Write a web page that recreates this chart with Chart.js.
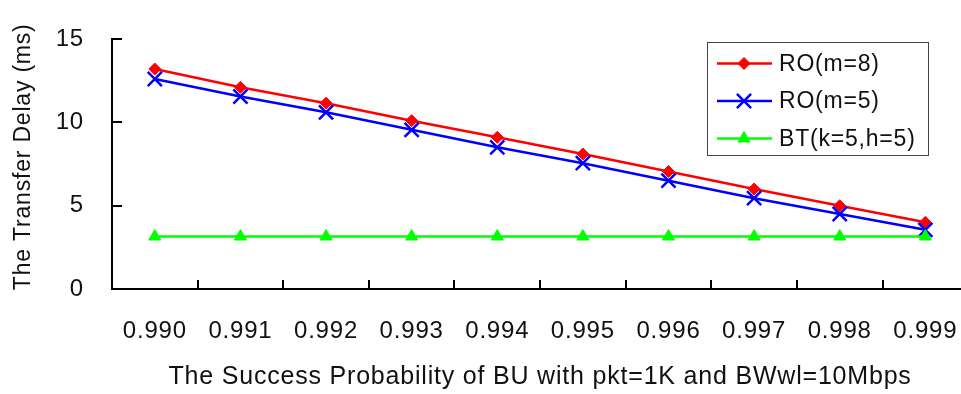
<!DOCTYPE html>
<html>
<head>
<meta charset="utf-8">
<script src="https://cdn.jsdelivr.net/npm/chart.js@4.4.1/dist/chart.umd.min.js"></script>
<style>
  html, body { margin: 0; padding: 0; background: #fff; overflow: hidden; }
  #wrap { width: 984px; height: 394px; }
</style>
</head>
<body>
<div id="wrap"><canvas id="delay-chart" width="984" height="394"></canvas></div>
<script>
// success probability of BU (x axis categories)
const probLabels = ["0.990", "0.991", "0.992", "0.993", "0.994", "0.995", "0.996", "0.997", "0.998", "0.999"];

// transfer delay in ms
const roM8 = [13.2, 12.1, 11.15, 10.1, 9.1, 8.1, 7.05, 6.0, 5.0, 4.0];
const roM5 = [12.6, 11.55, 10.6, 9.55, 8.5, 7.55, 6.5, 5.45, 4.5, 3.55];
const btK5H5 = [3.15, 3.15, 3.15, 3.15, 3.15, 3.15, 3.15, 3.15, 3.15, 3.15];

const yTicks = [0, 5, 10, 15];
const fontFamily = "'Liberation Sans', Arial, sans-serif";

// a bit of tracking on all canvas text
const textSpacing = {
  id: "textSpacing",
  beforeDraw(chart) {
    chart.ctx.letterSpacing = "0.8px";
  },
};

// small inward tick marks on both axes
const innerTicks = {
  id: "innerTicks",
  afterDraw(chart) {
    const ctx = chart.ctx;
    const x = chart.scales.x;
    const y = chart.scales.y;
    const area = chart.chartArea;
    ctx.save();
    ctx.strokeStyle = "#000";
    ctx.lineWidth = 2;
    ctx.beginPath();
    for (let i = 1; i < probLabels.length; i++) {
      const px = Math.round((x.getPixelForValue(i - 1) + x.getPixelForValue(i)) / 2);
      ctx.moveTo(px, area.bottom);
      ctx.lineTo(px, area.bottom - 9);
    }
    yTicks.forEach((v) => {
      const py = Math.round(y.getPixelForValue(v));
      ctx.moveTo(area.left, py);
      ctx.lineTo(area.left + 10, py);
    });
    ctx.stroke();
    ctx.restore();
  },
};

// boxed legend with line + marker samples
const boxLegend = {
  id: "boxLegend",
  afterDraw(chart) {
    const ctx = chart.ctx;
    const left = 707, top = 42, w = 221, h = 113;
    ctx.save();
    ctx.fillStyle = "#fff";
    ctx.fillRect(left, top, w, h);
    ctx.strokeStyle = "#444";
    ctx.lineWidth = 1;
    ctx.strokeRect(left + 0.5, top + 0.5, w, h);
    ctx.font = "23px " + fontFamily;
    ctx.textBaseline = "middle";
    chart.data.datasets.forEach((ds, i) => {
      const cy = 63.5 + i * 37.5;
      ctx.strokeStyle = ds.borderColor;
      ctx.lineWidth = ds.borderWidth;
      ctx.beginPath();
      ctx.moveTo(717, cy);
      ctx.lineTo(772, cy);
      ctx.stroke();
      ctx.fillStyle = ds.pointBackgroundColor || ds.borderColor;
      ctx.strokeStyle = ds.pointBorderColor;
      ctx.lineWidth = ds.pointBorderWidth;
      Chart.helpers.drawPoint(ctx, {
        pointStyle: ds.pointStyle,
        radius: ds.pointRadius,
        borderWidth: ds.pointBorderWidth,
      }, 744, cy);
      ctx.fillStyle = "#111";
      ctx.fillText(ds.label, 779, cy + 1);
    });
    ctx.restore();
  },
};

new Chart(document.getElementById("delay-chart"), {
  type: "line",
  data: {
    labels: probLabels,
    datasets: [
      {
        label: "RO(m=8)",
        data: roM8,
        order: 2,
        borderColor: "#ff0000",
        backgroundColor: "#ff0000",
        pointBackgroundColor: "#ff0000",
        pointBorderColor: "#ff0000",
        pointStyle: "rectRot",
        pointRadius: 6,
        pointBorderWidth: 1,
        borderWidth: 2.5,
      },
      {
        label: "RO(m=5)",
        data: roM5,
        order: 1,
        borderColor: "#0000ff",
        backgroundColor: "#0000ff",
        pointBorderColor: "#0000ff",
        pointStyle: "crossRot",
        pointRadius: 10,
        pointBorderWidth: 2.5,
        borderWidth: 2.5,
      },
      {
        label: "BT(k=5,h=5)",
        data: btK5H5,
        order: 0,
        borderColor: "#00ff00",
        backgroundColor: "#00ff00",
        pointBackgroundColor: "#00ff00",
        pointBorderColor: "#00ff00",
        pointStyle: "triangle",
        pointRadius: 7,
        pointBorderWidth: 1,
        borderWidth: 2.5,
      },
    ],
  },
  options: {
    responsive: false,
    animation: false,
    layout: { padding: { top: 39, right: 0, left: 0, bottom: 0 } },
    plugins: {
      legend: { display: false },
      tooltip: { enabled: false },
    },
    scales: {
      x: {
        offset: true,
        grid: { display: false, drawTicks: false },
        border: { display: true, color: "#000", width: 2 },
        ticks: { color: "#111", padding: 28, maxRotation: 0, font: { family: fontFamily, size: 24 } },
        title: {
          display: true,
          text: "The Success Probability of BU with pkt=1K and BWwl=10Mbps",
          color: "#111",
          font: { family: fontFamily, size: 25 },
          padding: { top: 0, bottom: 2 },
        },
        afterFit(scale) { scale.height = 105; },
      },
      y: {
        min: 0,
        max: 15,
        afterBuildTicks(scale) { scale.ticks = yTicks.map((v) => ({ value: v })); },
        grid: { display: false, drawTicks: false },
        border: { display: true, color: "#000", width: 2 },
        ticks: { color: "#111", padding: 28, font: { family: fontFamily, size: 24 } },
        title: {
          display: true,
          text: "  The Transfer Delay (ms)",
          color: "#111",
          font: { family: fontFamily, size: 23 },
          padding: { bottom: 0, top: 10 },
        },
        afterFit(scale) {
          scale.width = 112;
          scale.paddingTop = 0;
          scale.paddingBottom = 0;
        },
      },
    },
  },
  plugins: [textSpacing, innerTicks, boxLegend],
});
</script>
</body>
</html>
